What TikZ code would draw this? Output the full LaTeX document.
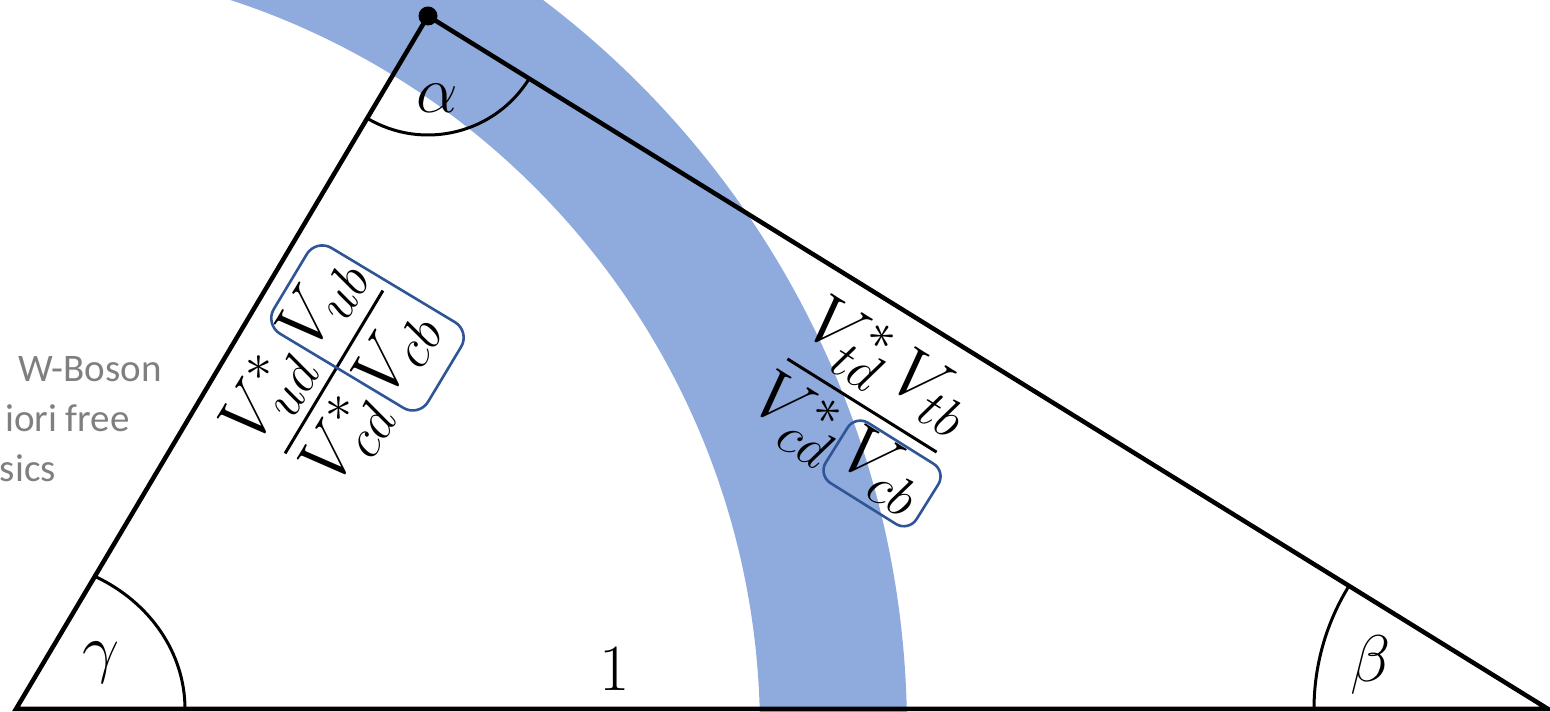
\RequirePackage{fix-cm}
\documentclass[tikz,border=0pt]{standalone}
\usepackage{fontspec}
\usepackage{amsmath}
\newfontfamily\grayfont{Carlito}
\DeclareMathSizes{71}{71}{54}{42}
\definecolor{bandblue}{HTML}{8FAADC}
\definecolor{boxblue}{HTML}{2F5597}
\definecolor{txtgray}{HTML}{7F7F7F}
\tikzset{
  side/.style={line width=4.5pt},
  anglearc/.style={line width=3pt},
  mathlbl/.style={font=\fontsize{66}{78}\selectfont, inner sep=0pt},
  fraclbl/.style={font=\fontsize{71}{84}\selectfont, inner sep=0pt, anchor=base},
  graytxt/.style={font=\grayfont\fontsize{39}{48}\selectfont, text=txtgray, inner sep=0pt, anchor=base east},
  hlbox/.style={draw=boxblue, line width=2.6pt, rounded corners=18pt, inner sep=0pt},
  fracbar/.style={line width=3pt},
}
\begin{document}
\begin{tikzpicture}[x=1pt,y=1pt]
\useasboundingbox (0,0) rectangle (1550,712);
\clip (0,0) rectangle (1550,712);
% blue band
\fill[bandblue, even odd rule] (-9,-19) circle[radius=916] (-9,-19) circle[radius=769];
% gray text
\node[graytxt] (t1) at (162,330) {W-Boson};
\node[graytxt] (t2) at (130,280) {iori free};
\node[graytxt] (t3) at (56,230) {sics};
% triangle
\coordinate (A) at (16,3);
\coordinate (B) at (1548,3);
\coordinate (C) at (428,696);
\draw[side] (A) -- (B) -- (C) -- cycle;
\fill (C) circle[radius=9.5];
% angle arcs
\draw[anglearc] (C) ++(239.27:119) arc[start angle=239.27, end angle=328.25, radius=119];
\draw[anglearc] (B) ++(180:234) arc[start angle=180, end angle=148.25, radius=234];
\draw[anglearc] (A) ++(169,0) arc[start angle=0, end angle=62, x radius=169, y radius=150];
% angle labels
\node[mathlbl] (alpha) at (437,614) {$\alpha$};
\node[mathlbl] (gamma) at (101,49) {$\gamma$};
\node[mathlbl] (beta) at (1371,47) {$\beta$};
\node[mathlbl] (one) at (615,43) {1};
% left fraction
\begin{scope}[shift={(334,340)}, rotate=59]
  \node[fraclbl, rotate=59] (n1) at (-2,28) {$V^*_{ud}\,V_{ub}$};
  \node[fraclbl, rotate=59] (d1) at (-3,-62) {$V^*_{cd}\,V_{cb}$};
  \coordinate (b1s) at (-95,0);
  \coordinate (b1e) at (95,0);
  \draw[fracbar] (b1s) -- (b1e);
  \node[hlbox, rotate=59, minimum width=100, minimum height=180] (box1) at (55,-6) {};
\end{scope}
% right fraction
\begin{scope}[shift={(862,306.5)}, rotate=-32]
  \node[fraclbl, rotate=-32] (n2) at (2,30) {$V^*_{td}\,V_{tb}$};
  \node[fraclbl, rotate=-32] (d2) at (0,-62) {$V^*_{cd}\,V_{cb}$};
  \coordinate (b2s) at (-88,0);
  \coordinate (b2e) at (88,0);
  \draw[fracbar] (b2s) -- (b2e);
  \node[hlbox, rotate=-32, rounded corners=15pt, minimum width=107, minimum height=71] (box2) at (53,-47) {};
\end{scope}
\end{tikzpicture}
\end{document}
